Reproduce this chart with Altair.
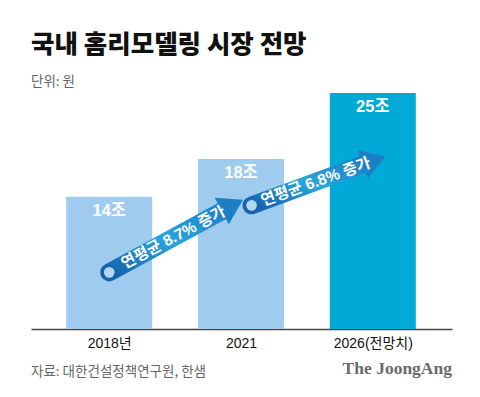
import json
import math
import altair as alt
import pandas as pd

# ---- data ----
categories = ["2018년", "2021", "2026(전망치)"]
values = [14, 18, 25]
value_labels = ["14조", "18조", "25조"]
bar_colors = ["#9fcbee", "#9fcbee", "#00a9d6"]

arrow_labels = ["연평균 8.7% 증가", "연평균 6.8% 증가"]
arrow_x_start = [0.0, 1.08]
arrow_y_start = [6.0, 13.1]
arrow_x_end = [1.015, 2.096]
arrow_y_end = [13.7, 18.3]

title = "국내 홈리모델링 시장 전망"
subtitle = "단위: 원"
source = "자료: 대한건설정책연구원, 한샘"
logo = "The JoongAng"

# ---- layout ----
W, H = 421, 236
x_domain = [-0.5556, 2.563]
y_domain = [0, 25]
px_x = W / (x_domain[1] - x_domain[0])
px_y = H / (y_domain[1] - y_domain[0])
HEAD_BACK = 19  # px from tip where body ends
KR = "'Noto Sans CJK KR'"
SANS = "'Liberation Sans', 'Noto Sans CJK KR'"

bars = pd.DataFrame({
    "x": list(range(len(categories))),
    "cat": categories,
    "value": values,
    "label": value_labels,
})

rows = []
for lab, xs, ys, xe, ye in zip(arrow_labels, arrow_x_start, arrow_y_start, arrow_x_end, arrow_y_end):
    dxp = (xe - xs) * px_x
    dyp = (ye - ys) * px_y
    length = math.hypot(dxp, dyp)
    ang = math.degrees(math.atan2(dyp, dxp))
    f = 1 - HEAD_BACK / length
    rows.append({
        "label": lab,
        "xs": xs, "ys": ys, "xe": xe, "ye": ye,
        "bx": xs + f * (xe - xs), "by": ys + f * (ye - ys),
        "tx": xs + 0.48 * (xe - xs), "ty": ys + 0.48 * (ye - ys),
        "angle": (360 - ang) % 360,
    })
arrows = pd.DataFrame(rows)

xs_scale = alt.Scale(domain=x_domain, nice=False, zero=False)
ys_scale = alt.Scale(domain=y_domain, nice=False, zero=True)
label_expr = json.dumps(categories, ensure_ascii=False) + "[datum.value]"

bar_layer = alt.Chart(bars).mark_bar(size=86).encode(
    x=alt.X("x:Q", scale=xs_scale, title=None,
            axis=alt.Axis(values=[0, 1, 2], labelExpr=label_expr, ticks=False, grid=False,
                          labelFontSize=14, labelColor="#111", labelPadding=7,
                          labelFont=SANS, domainColor="#444", domainWidth=1.5)),
    y=alt.Y("value:Q", scale=ys_scale, axis=None),
    color=alt.Color("cat:N", scale=alt.Scale(domain=categories, range=bar_colors), legend=None),
)

bar_text = alt.Chart(bars).mark_text(
    dy=14, baseline="middle", align="center", color="white", fontWeight="bold",
    fontSize=16.5, font=SANS,
).encode(
    x=alt.X("x:Q", scale=xs_scale, title=None),
    y=alt.Y("value:Q", scale=ys_scale, axis=None),
    text="label:N",
)

grad = alt.LinearGradient(
    gradient="linear",
    stops=[alt.GradientStop(color="#1562ae", offset=0),
           alt.GradientStop(color="#2aa6dd", offset=0.5),
           alt.GradientStop(color="#1b7fc6", offset=1)],
    x1=0, y1=1, x2=1, y2=0,
)

body = alt.Chart(arrows).mark_rule(strokeWidth=18, strokeCap="round", stroke=grad).encode(
    x=alt.X("xs:Q", scale=xs_scale, title=None),
    y=alt.Y("ys:Q", scale=ys_scale, axis=None),
    x2="bx:Q",
    y2="by:Q",
)

head = alt.Chart(arrows).mark_point(
    shape="M0,0 L-1.6,-1 L-1.6,1 Z", size=900, filled=True, color="#1b7fc6",
    opacity=1, strokeWidth=0,
).encode(
    x=alt.X("xe:Q", scale=xs_scale, title=None),
    y=alt.Y("ye:Q", scale=ys_scale, axis=None),
    angle=alt.Angle("angle:Q", scale=None),
)

ring = alt.Chart(arrows).mark_point(
    shape="circle", size=115, filled=True, color="#b3d8f3", opacity=1, strokeWidth=0,
).encode(
    x=alt.X("xs:Q", scale=xs_scale, title=None),
    y=alt.Y("ys:Q", scale=ys_scale, axis=None),
)

arrow_text = alt.Chart(arrows).mark_text(
    color="white", fontWeight="bold", fontSize=15.5, font=SANS,
    align="center", baseline="middle",
).encode(
    x=alt.X("tx:Q", scale=xs_scale, title=None),
    y=alt.Y("ty:Q", scale=ys_scale, axis=None),
    angle=alt.Angle("angle:Q", scale=None),
    text="label:N",
)


def note(txt, x, y, **kw):
    return alt.Chart(pd.DataFrame({"t": [txt]})).mark_text(**kw).encode(
        text="t:N", x=alt.value(x), y=alt.value(y))


title_t = note(title, 0, -40, align="left", baseline="alphabetic", font=KR,
               fontSize=25.5, fontWeight=900, color="#111")
sub_t = note(subtitle, 0, -7, align="left", baseline="alphabetic", font=KR,
             fontSize=13.5, color="#666")
src_t = note(source, 0, 283, align="left", baseline="alphabetic", font=KR,
             fontSize=13.5, color="#666")
logo_t = note(logo, W, 281, align="right", baseline="alphabetic", font="'Liberation Serif'",
              fontSize=17.5, fontWeight="bold", color="#6b6b6b")

chart = alt.layer(
    bar_layer, bar_text, body, head, ring, arrow_text,
    title_t, sub_t, src_t, logo_t,
).properties(
    width=W, height=H, autosize="none",
    padding={"left": 23, "top": 85, "right": 18, "bottom": 54},
).configure_view(stroke=None)

chart.save("out.html", embed_options={"renderer": "svg", "actions": False})
